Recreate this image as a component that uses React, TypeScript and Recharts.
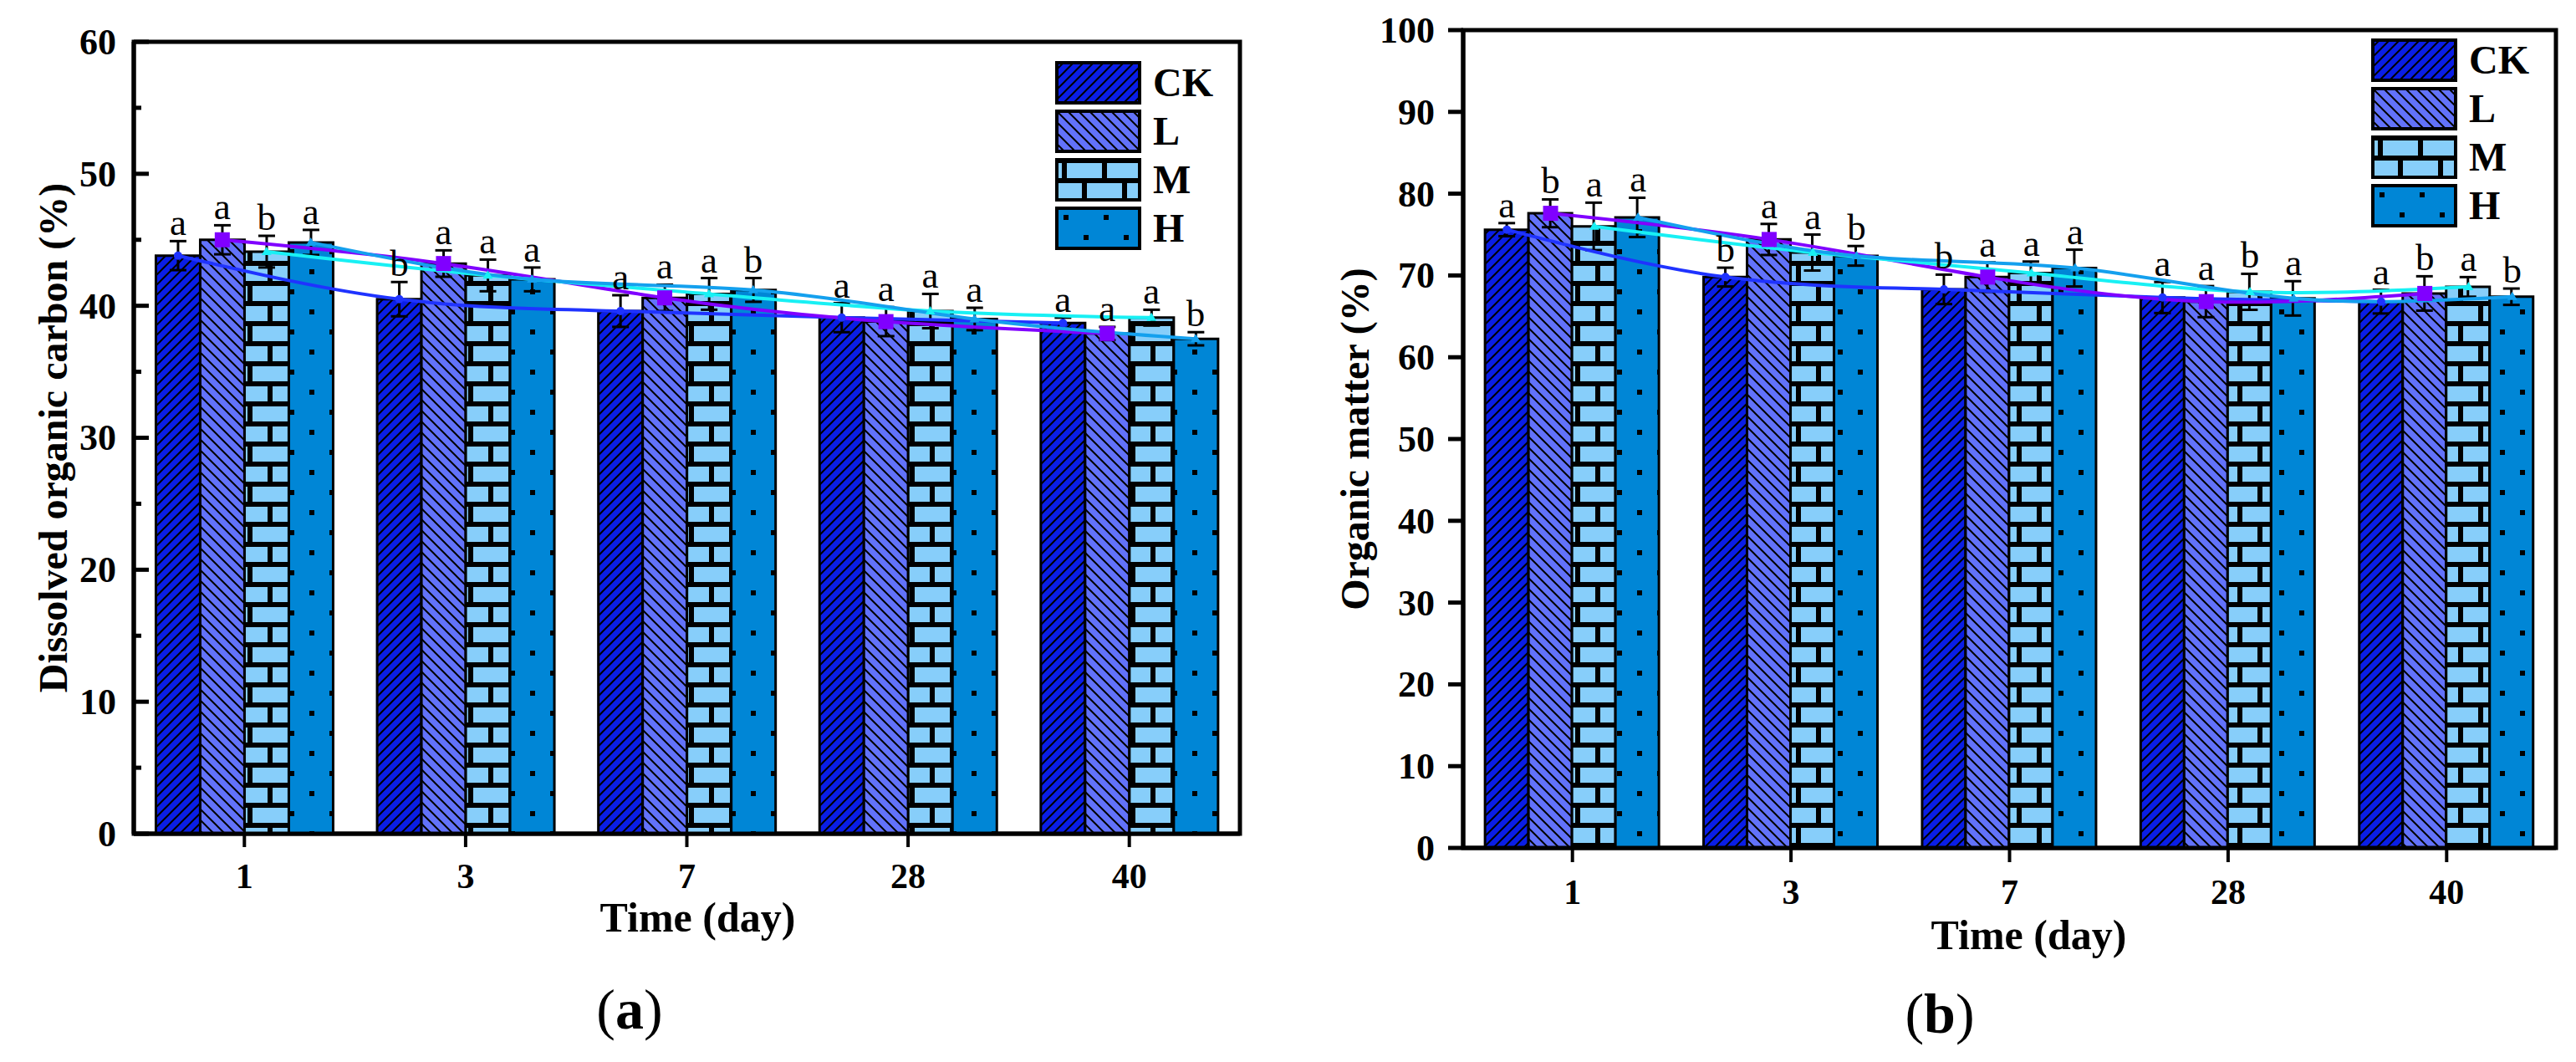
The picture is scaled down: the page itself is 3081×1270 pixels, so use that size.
import React from "react";
import {
  ComposedChart,
  Bar,
  Line,
  XAxis,
  YAxis,
  ErrorBar,
  LabelList,
  ReferenceArea,
  Legend,
} from "recharts";

const days = ["1", "3", "7", "28", "40"];
const groups = ["CK", "L", "M", "H"];

// (a) dissolved organic carbon (%)
const docCK = [43.8, 40.5, 39.6, 39.1, 38.7];
const docCKErr = [1.1, 1.3, 1.2, 1.1, 0.4];
const docCKSig = ["a", "b", "a", "a", "a"];
const docL = [45.0, 43.2, 40.6, 38.8, 37.9];
const docLErr = [1.1, 1.0, 1.0, 1.1, 0.5];
const docLSig = ["a", "a", "a", "a", "a"];
const docM = [44.1, 42.3, 40.9, 39.6, 39.1];
const docMErr = [1.2, 1.2, 1.2, 1.3, 0.6];
const docMSig = ["b", "a", "a", "a", "a"];
const docH = [44.8, 42.0, 41.2, 39.0, 37.5];
const docHErr = [0.95, 0.9, 0.9, 0.85, 0.5];
const docHSig = ["a", "a", "b", "a", "b"];

// (b) organic matter (%)
const omCK = [75.6, 69.8, 68.3, 67.3, 66.8];
const omCKErr = [0.8, 1.15, 1.8, 1.9, 1.45];
const omCKSig = ["a", "b", "b", "a", "a"];
const omL = [77.6, 74.4, 69.8, 66.8, 67.8];
const omLErr = [1.7, 1.9, 1.8, 1.9, 2.1];
const omLSig = ["b", "a", "a", "a", "b"];
const omM = [76.0, 72.8, 70.3, 68.0, 68.6];
const omMErr = [2.9, 2.2, 1.4, 2.2, 1.2];
const omMSig = ["a", "a", "a", "b", "a"];
const omH = [77.1, 72.4, 70.9, 67.2, 67.4];
const omHErr = [2.4, 1.2, 2.25, 2.1, 1.0];
const omHSig = ["a", "b", "a", "a", "b"];

const docTicks = [0, 5, 10, 15, 20, 25, 30, 35, 40, 45, 50, 55, 60];
const omTicks = [0, 10, 20, 30, 40, 50, 60, 70, 80, 90, 100];

const FONT = "'Liberation Serif', 'Times New Roman', serif";

const barFills: Record<string, string> = {
  CK: "url(#pat-ck)",
  L: "url(#pat-l)",
  M: "url(#pat-m)",
  H: "url(#pat-h)",
};
const lineColors: Record<string, string> = {
  CK: "#1f33ff",
  L: "#8000ff",
  M: "#18f0f4",
  H: "#14a0ee",
};
// centre of each bar inside its band (barCategoryGap 10%, 4 bars)
const slot: Record<string, number> = { CK: 0.2, L: 0.4, M: 0.6, H: 0.8 };

type Series = { key: string; values: number[]; err: number[]; sig: string[] };

const docSeries: Series[] = [
  { key: "CK", values: docCK, err: docCKErr, sig: docCKSig },
  { key: "L", values: docL, err: docLErr, sig: docLSig },
  { key: "M", values: docM, err: docMErr, sig: docMSig },
  { key: "H", values: docH, err: docHErr, sig: docHSig },
];
const omSeries: Series[] = [
  { key: "CK", values: omCK, err: omCKErr, sig: omCKSig },
  { key: "L", values: omL, err: omLErr, sig: omLSig },
  { key: "M", values: omM, err: omMErr, sig: omMSig },
  { key: "H", values: omH, err: omHErr, sig: omHSig },
];

function buildRows(series: Series[]) {
  return days.map((day, i) => {
    const row: Record<string, string | number> = { day };
    series.forEach((s) => {
      row[s.key] = s.values[i];
      row[s.key + "_err"] = s.err[i];
    });
    return row;
  });
}

function buildLine(s: Series) {
  return days.map((_, i) => ({
    x: i + slot[s.key],
    v: s.values[i],
    top: s.values[i] + s.err[i],
    sig: s.sig[i],
  }));
}

function marker(key: string) {
  const c = lineColors[key];
  return (p: any) => {
    const { cx, cy, index } = p;
    if (key === "L")
      return <rect key={index} x={cx - 9} y={cy - 9} width={18} height={18} fill={c} />;
    if (key === "CK") return <circle key={index} cx={cx} cy={cy} r={5} fill={c} />;
    return (
      <path
        key={index}
        d={`M${cx},${cy - 6} L${cx + 6},${cy + 4} L${cx - 6},${cy + 4} Z`}
        fill={c}
      />
    );
  };
}

function makeYTick(inward: boolean, labelGap: number) {
  return (p: any) => {
    const { x, y, payload } = p;
    const v = payload.value;
    const major = v % 10 === 0;
    const len = major ? 18 : 9;
    return (
      <g>
        <line x1={x} y1={y} x2={inward ? x + len : x - len} y2={y} stroke="#000" strokeWidth={5} />
        {major && (
          <text
            x={x - labelGap}
            y={y}
            dy="0.34em"
            textAnchor="end"
            fill="#000"
            fontSize={44}
            fontWeight={700}
            fontFamily={FONT}
          >
            {v}
          </text>
        )}
      </g>
    );
  };
}

function PatternDefs() {
  return (
    <svg width={0} height={0} style={{ position: "absolute" }}>
      <defs>
        <pattern id="pat-ck" width={12} height={12} patternUnits="userSpaceOnUse">
          <rect width={12} height={12} fill="#0a1ee6" />
          <path d="M-3,3 L3,-3 M0,12 L12,0 M9,15 L15,9" stroke="#000" strokeWidth={2} />
        </pattern>
        <pattern id="pat-l" width={13} height={13} patternUnits="userSpaceOnUse">
          <rect width={13} height={13} fill="#6272fa" />
          <path d="M-3,10 L3,16 M0,0 L13,13 M10,-3 L16,3" stroke="#000" strokeWidth={2} />
        </pattern>
        <pattern id="pat-m" width={48} height={48} patternUnits="userSpaceOnUse">
          <rect width={48} height={48} fill="#87cefa" />
          <rect x={0} y={0} width={48} height={6} fill="#000" />
          <rect x={0} y={24} width={48} height={6} fill="#000" />
          <rect x={8} y={6} width={6} height={18} fill="#000" />
          <rect x={32} y={30} width={6} height={18} fill="#000" />
        </pattern>
        <pattern id="pat-h" width={48} height={48} patternUnits="userSpaceOnUse">
          <rect width={48} height={48} fill="#0086d6" />
          <rect x={10} y={10} width={6} height={6} fill="#000" />
          <rect x={34} y={34} width={6} height={6} fill="#000" />
        </pattern>
      </defs>
    </svg>
  );
}

function LegendBox() {
  return (
    <div style={{ display: "flex", flexDirection: "column", gap: 6 }}>
      {groups.map((g) => (
        <div key={g} style={{ display: "flex", alignItems: "center", height: 52 }}>
          <svg width={103} height={52} style={{ display: "block" }}>
            <rect x={2} y={2} width={99} height={48} fill={barFills[g]} stroke="#000" strokeWidth={4} />
          </svg>
          <span
            style={{
              marginLeft: 14,
              fontFamily: FONT,
              fontWeight: 700,
              fontSize: 48,
              lineHeight: "52px",
              color: "#000",
            }}
          >
            {g}
          </span>
        </div>
      ))}
    </div>
  );
}

type PanelProps = {
  series: Series[];
  width: number;
  height: number;
  margin: { top: number; right: number; bottom: number; left: number };
  yWidth: number;
  yMax: number;
  yTicks: number[];
  yLabel: string;
  yLabelDx: number;
  inwardTicks: boolean;
  yLabelGap: number;
  majorTick: number;
  minorTick: number;
  tickMargin: number;
  xLabelDx: number;
  xLabelOffset: number;
  legendPos: { left: number; top: number };
};

function Panel(props: PanelProps) {
  const rows = buildRows(props.series);
  return (
    <ComposedChart
      width={props.width}
      height={props.height}
      data={rows}
      margin={props.margin}
      barCategoryGap="10%"
      barGap={0}
    >
      <XAxis
        xAxisId="num"
        type="number"
        dataKey="x"
        domain={[0, 5]}
        ticks={[0, 1, 2, 3, 4, 5]}
        height={0}
        allowDataOverflow
        axisLine={false}
        tickSize={props.minorTick}
        tickLine={{ stroke: "#000", strokeWidth: 4 }}
        tickFormatter={() => ""}
      />
      <XAxis
        xAxisId="cat"
        dataKey="day"
        type="category"
        height={140}
        interval={0}
        tickSize={props.majorTick}
        tickMargin={props.tickMargin}
        tickLine={{ stroke: "#000", strokeWidth: 4 }}
        axisLine={{ stroke: "#000", strokeWidth: 5 }}
        tick={{ fill: "#000", fontSize: 42, fontWeight: 700, fontFamily: FONT }}
        label={{
          value: "Time (day)",
          position: "insideBottom",
          offset: props.xLabelOffset,
          dx: props.xLabelDx,
          fill: "#000",
          fontSize: 50,
          fontWeight: 700,
          fontFamily: FONT,
        }}
      />
      <YAxis
        yAxisId="y"
        domain={[0, props.yMax]}
        ticks={props.yTicks}
        interval={0}
        width={props.yWidth}
        tickSize={0}
        tickMargin={0}
        tickLine={false}
        tick={makeYTick(props.inwardTicks, props.yLabelGap)}
        axisLine={{ stroke: "#000", strokeWidth: 5 }}
        label={{
          value: props.yLabel,
          angle: -90,
          position: "center",
          dx: props.yLabelDx,
          fill: "#000",
          fontSize: 48,
          fontWeight: 700,
          fontFamily: FONT,
        }}
      />
      <ReferenceArea
        xAxisId="num"
        yAxisId="y"
        x1={0}
        x2={5}
        y1={0}
        y2={props.yMax}
        fill="none"
        stroke="#000"
        strokeWidth={5}
        ifOverflow="visible"
      />
      {props.series.map((s) => (
        <Bar
          key={"bar-" + s.key}
          xAxisId="cat"
          yAxisId="y"
          dataKey={s.key}
          fill={barFills[s.key]}
          stroke="#000"
          strokeWidth={3}
          isAnimationActive={false}
        >
          <ErrorBar dataKey={s.key + "_err"} width={10} stroke="#000" strokeWidth={3} direction="y" />
        </Bar>
      ))}
      {props.series.map((s) => (
        <Line
          key={"line-" + s.key}
          xAxisId="num"
          yAxisId="y"
          data={buildLine(s)}
          dataKey="v"
          type="natural"
          stroke={lineColors[s.key]}
          strokeWidth={4}
          dot={marker(s.key)}
          activeDot={false}
          legendType="none"
          isAnimationActive={false}
        />
      ))}
      {props.series.map((s) => (
        <Line
          key={"sig-" + s.key}
          xAxisId="num"
          yAxisId="y"
          data={buildLine(s)}
          dataKey="top"
          stroke="none"
          dot={false}
          activeDot={false}
          legendType="none"
          isAnimationActive={false}
        >
          <LabelList
            dataKey="sig"
            position="top"
            offset={7}
            fill="#000"
            fontSize={45}
            fontFamily={FONT}
          />
        </Line>
      ))}
      <Legend
        layout="vertical"
        align="center"
        verticalAlign="middle"
        content={() => <LegendBox />}
        wrapperStyle={{ left: props.legendPos.left, top: props.legendPos.top, width: "auto" }}
      />
    </ComposedChart>
  );
}

function Caption({ letter, cx, cy }: { letter: string; cx: number; cy: number }) {
  return (
    <div
      style={{
        position: "absolute",
        left: cx - 80,
        top: cy - 42,
        width: 160,
        height: 84,
        lineHeight: "84px",
        textAlign: "center",
        fontFamily: FONT,
        fontSize: 68,
        color: "#000",
      }}
    >
      (<b>{letter}</b>)
    </div>
  );
}

export default function App() {
  return (
    <div
      style={{
        position: "absolute",
        left: 0,
        top: 0,
        width: 3081,
        height: 1270,
        background: "#fff",
        overflow: "hidden",
      }}
    >
      <PatternDefs />
      <div style={{ position: "absolute", left: 0, top: 0 }}>
        <Panel
          series={docSeries}
          width={1540}
          height={1270}
          margin={{ top: 50, right: 57, bottom: 133, left: 0 }}
          yWidth={160}
          yMax={60}
          yTicks={docTicks}
          yLabel="Dissolved organic carbon (%)"
          yLabelDx={-17}
          inwardTicks={true}
          yLabelGap={21}
          majorTick={16}
          minorTick={7}
          tickMargin={19}
          xLabelDx={13}
          xLabelOffset={23}
          legendPos={{ left: 1262, top: 73 }}
        />
      </div>
      <div style={{ position: "absolute", left: 1540, top: 0 }}>
        <Panel
          series={omSeries}
          width={1541}
          height={1270}
          margin={{ top: 36, right: 24, bottom: 116, left: 0 }}
          yWidth={210}
          yMax={100}
          yTicks={omTicks}
          yLabel="Organic matter (%)"
          yLabelDx={-25}
          inwardTicks={false}
          yLabelGap={34}
          majorTick={17}
          minorTick={9}
          tickMargin={20}
          xLabelDx={23}
          xLabelOffset={19}
          legendPos={{ left: 1296, top: 46 }}
        />
      </div>
      <Caption letter="a" cx={753} cy={1207} />
      <Caption letter="b" cx={2320} cy={1212} />
    </div>
  );
}
